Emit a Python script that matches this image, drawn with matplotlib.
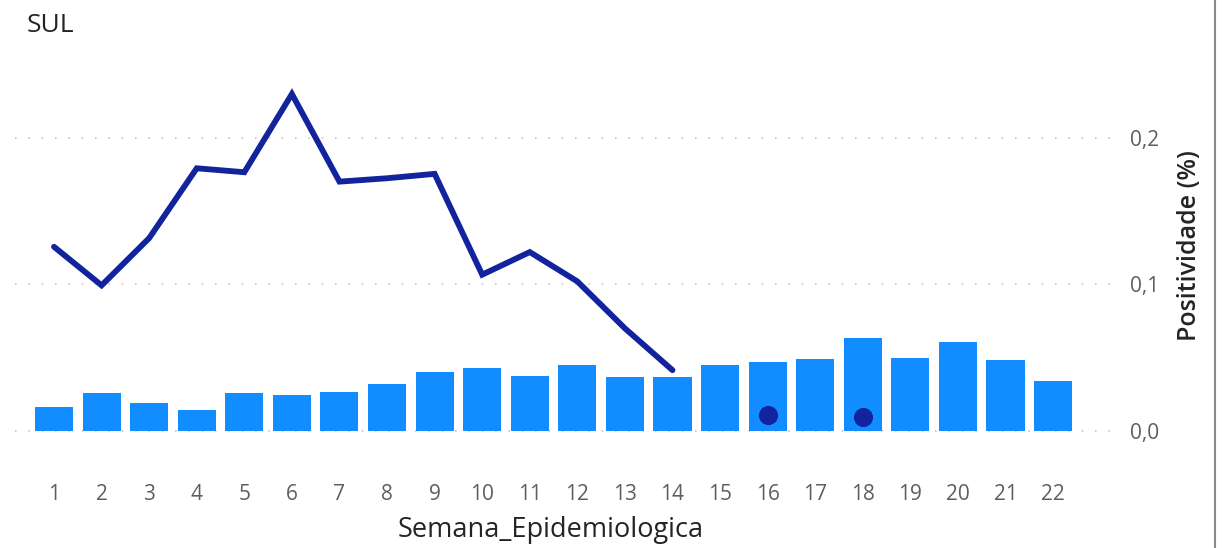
import numpy as np
import matplotlib
matplotlib.use("Agg")
import matplotlib.pyplot as plt
from matplotlib.lines import Line2D

semanas = list(range(1, 23))

# bar heights (left axis is hidden in the original)
testes = [24, 38, 28, 21, 38, 36, 39.5, 47, 59, 63, 55, 66, 54, 54, 66, 69, 72, 93, 73, 89, 71, 50]

# positividade line, weeks 1-14
semanas_linha = list(range(1, 15))
positividade = [0.1256, 0.0993, 0.1315, 0.1791, 0.1764, 0.2297, 0.1700, 0.1723,
                0.1753, 0.1066, 0.1220, 0.1020, 0.0700, 0.0415]

# isolated points
semanas_pontos = [16, 18]
positividade_pontos = [0.0113, 0.0097]

y_ticks = [0.0, 0.1, 0.2]
y_tick_labels = ["0,0", "0,1", "0,2"]


def main():
    plt.rcParams['font.family'] = ['Open Sans', 'DejaVu Sans']

    W, H = 1229, 548
    fig = plt.figure(figsize=(W / 100, H / 100), dpi=100)

    left, right, top, bottom = 15, 1114, 50, 460
    ax = fig.add_axes([left / W, 1 - bottom / H, (right - left) / W, (bottom - top) / H])
    ax2 = ax.twinx()

    y_lo, y_hi = -0.0197, 0.2597
    px_per_unit = 1467.0
    ax.set_ylim(y_lo * px_per_unit, y_hi * px_per_unit)
    ax2.set_ylim(y_lo, y_hi)
    ax.set_xlim(0.18, 23.28)

    # gridlines sit under the bars
    for v in y_ticks:
        ax.axhline(v * px_per_unit, color="#C8C6C4", linestyle=(0, (1, 7)), linewidth=1.2, zorder=1)

    ax.bar(semanas, testes, width=0.8, color="#118DFF", zorder=3)
    ax.set_yticks([])

    ax2.plot(semanas_linha, positividade, color="#12239E", linewidth=4.2,
             solid_joinstyle="miter", solid_capstyle="round", zorder=4)
    ax2.scatter(semanas_pontos, positividade_pontos, s=190, color="#12239E", zorder=5,
                linewidths=0)

    ax2.set_yticks(y_ticks)
    ax2.set_yticklabels(y_tick_labels)
    ax2.tick_params(axis="y", length=0, pad=11.5, labelsize=15, labelcolor="#605E5C")

    ax.set_xticks(semanas)
    ax.set_xticklabels([str(s) for s in semanas])
    ax.tick_params(axis="x", length=0, pad=17, labelsize=15, labelcolor="#605E5C")

    for a in (ax, ax2):
        for s in a.spines.values():
            s.set_visible(False)

    fig.text(27 / W, 1 - 25 / H, "SUL", fontsize=19, color="#252423", va="center", ha="left")
    fig.text(551 / W, 1 - 530 / H, "Semana_Epidemiologica", fontsize=19.5, color="#252423",
             va="center", ha="center")
    fig.text(1190 / W, 1 - 246 / H, "Positividade (%)", fontsize=18, color="#252423",
             va="center", ha="center", rotation=90, fontweight="semibold")

    fig.add_artist(Line2D([1215 / W, 1215 / W], [0, 1], transform=fig.transFigure,
                          color="#8A8A8A", linewidth=1.5))

    fig.savefig("out.png", dpi=100, facecolor="white")


if __name__ == '__main__':
    main()
